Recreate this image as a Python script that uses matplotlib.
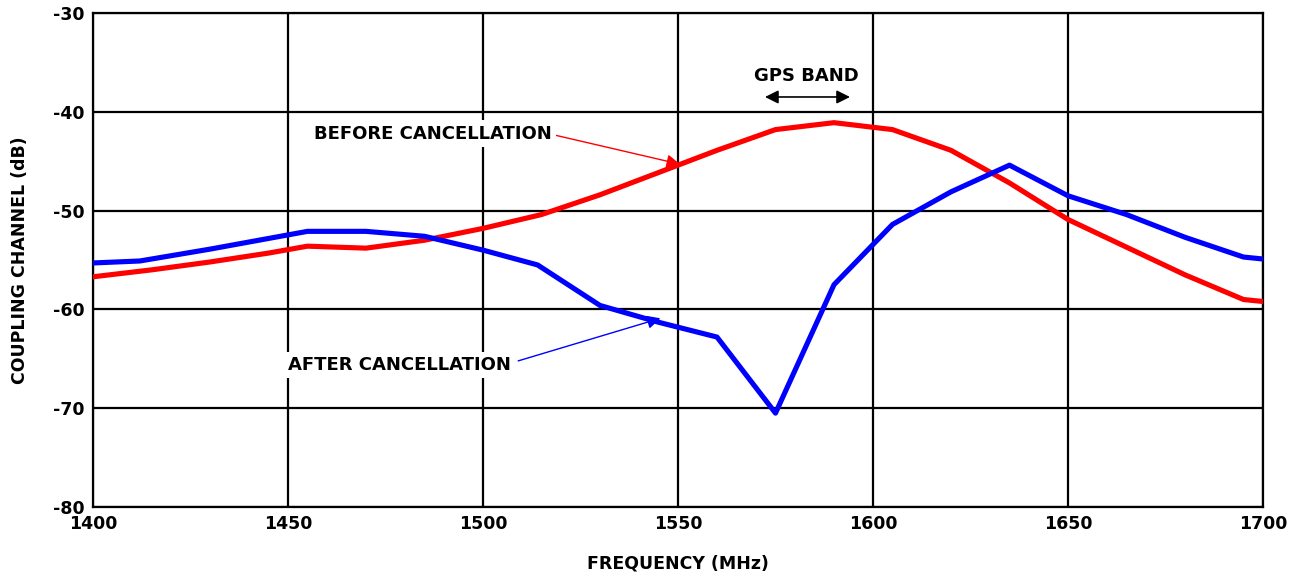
import matplotlib
matplotlib.use("Agg")
import matplotlib.pyplot as plt

# frequency points (MHz) and coupling (dB)
freq_before = [1400, 1415, 1430, 1445, 1455, 1470, 1485, 1500, 1515, 1530, 1550, 1560,
               1575, 1590, 1605, 1620, 1635, 1650, 1665, 1680, 1695, 1700]
db_before = [-56.7, -56.0, -55.2, -54.3, -53.6, -53.8, -53.0, -51.8, -50.4, -48.4, -45.4, -43.9,
             -41.8, -41.1, -41.8, -43.9, -47.2, -50.9, -53.7, -56.5, -59.0, -59.2]

freq_after = [1400, 1412, 1430, 1455, 1470, 1485, 1500, 1514, 1530, 1545, 1560,
              1575, 1590, 1605, 1620, 1635, 1650, 1665, 1680, 1695, 1700]
db_after = [-55.3, -55.1, -53.9, -52.1, -52.1, -52.6, -54.0, -55.5, -59.6, -61.3, -62.8,
            -70.5, -57.5, -51.4, -48.1, -45.4, -48.5, -50.4, -52.7, -54.7, -54.9]

x_ticks = [1400, 1450, 1500, 1550, 1600, 1650, 1700]
y_ticks = [-80, -70, -60, -50, -40, -30]

plt.rcParams['font.family'] = ['DejaVu Sans']
plt.rcParams['font.weight'] = 'bold'
plt.rcParams['axes.unicode_minus'] = False

fig = plt.figure(figsize=(13, 5.75), dpi=100)
ax = fig.add_axes([93/1300, 1 - 507/575, 1170/1300, 494/575])

ax.plot(freq_before, db_before, color='#ff0000', lw=3.7, solid_joinstyle='round', zorder=3)
ax.plot(freq_after, db_after, color='#0000ff', lw=3.7, solid_joinstyle='round', zorder=3)

ax.set_xlim(1400, 1700)
ax.set_ylim(-80, -30)
ax.set_xticks(x_ticks)
ax.set_yticks(y_ticks)
ax.grid(True, color='black', lw=1.6)
ax.set_axisbelow(True)
for s in ax.spines.values():
    s.set_linewidth(1.6)
ax.tick_params(length=0, labelsize=12.5, pad=6)
for lab in ax.get_xticklabels() + ax.get_yticklabels():
    lab.set_fontweight('bold')

ax.set_xlabel('FREQUENCY (MHz)', fontsize=12.5, fontweight='bold', labelpad=15)
ax.set_ylabel('COUPLING CHANNEL (dB)', fontsize=12.5, fontweight='bold', labelpad=17)

box = dict(facecolor='white', edgecolor='none', pad=3)

ax.annotate('BEFORE CANCELLATION', xy=(1550.5, -45.3), xytext=(1487.2, -42.2),
            fontsize=13, fontweight='bold', ha='center', va='center', bbox=box,
            arrowprops=dict(arrowstyle='-|>', color='#ff0000', lw=1,
                            mutation_scale=20, shrinkA=0, shrinkB=0,
                            relpos=(1.0, 0.45)), zorder=4)

ax.annotate('AFTER CANCELLATION', xy=(1545.5, -60.9), xytext=(1478.7, -65.6),
            fontsize=13, fontweight='bold', ha='center', va='center', bbox=box,
            arrowprops=dict(arrowstyle='-|>', color='#0000ff', lw=1,
                            mutation_scale=20, shrinkA=2, shrinkB=0,
                            relpos=(1.0, 0.6)), zorder=4)

ax.text(1583, -36.4, 'GPS BAND', fontsize=13, fontweight='bold', ha='center', va='center')
ax.annotate('', xy=(1572.3, -38.5), xytext=(1594.1, -38.5),
            arrowprops=dict(arrowstyle='<|-|>', color='black', lw=1.2,
                            mutation_scale=20, shrinkA=0, shrinkB=0))

fig.savefig('out.png', dpi=100)
